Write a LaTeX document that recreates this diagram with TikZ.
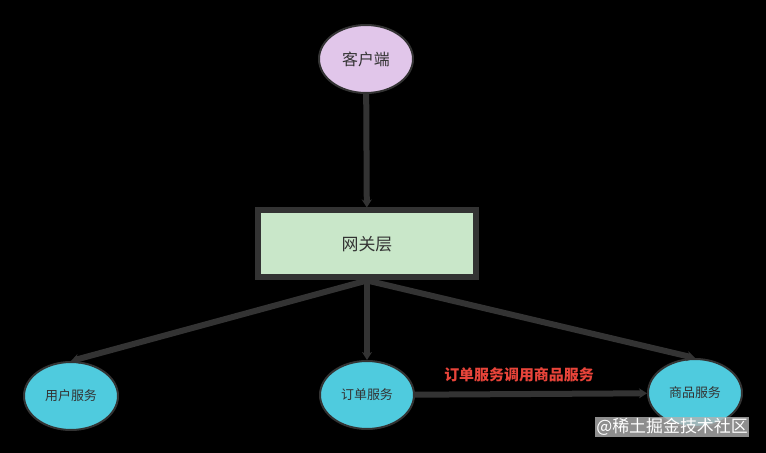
\documentclass[tikz,border=0pt]{standalone}
\usepackage{fontspec}
\newfontfamily\cjk{Noto Sans CJK SC}
\usetikzlibrary{arrows.meta,shapes.geometric}
\definecolor{linegray}{HTML}{333333}
\definecolor{purplefill}{HTML}{E1C6EA}
\definecolor{greenfill}{HTML}{C9E7C9}
\definecolor{cyanfill}{HTML}{4FCBDE}
\definecolor{redtext}{HTML}{E8443A}
\tikzset{
  ell/.style={ellipse, draw=linegray, line width=2bp, minimum width=94bp, minimum height=68bp, inner sep=0pt, text=linegray, font=\cjk\fontsize{13}{15}\selectfont},
  gw/.style={rectangle, draw=linegray, line width=6bp, fill=greenfill, minimum width=218bp, minimum height=67bp, inner sep=0pt, text=linegray, font=\cjk\fontsize{17}{20}\selectfont},
  conn/.style={draw=linegray, line width=6bp, -{Stealth[length=8bp,width=10bp]}},
}
\begin{document}
\begin{tikzpicture}[x=1bp,y=-1bp]
\fill[black] (0,0) rectangle (766,453);
\useasboundingbox (0,0) rectangle (766,453);
\node[ell, fill=purplefill, font=\cjk\fontsize{16}{18}\selectfont] (client) at (366,59) {客户端};
\node[gw] (gateway) at (367,244) {网关层};
\node[ell, fill=cyanfill] (user) at (71,396) {用户服务};
\node[ell, fill=cyanfill] (order) at (367,395) {订单服务};
\node[ell, fill=cyanfill] (goods) at (695,393) {商品服务};
\draw[conn] (client) -- (gateway);
\draw[conn] (gateway.south) -- (user.north);
\draw[conn] (gateway.south) -- (order.north);
\draw[conn] (gateway.south) -- (goods.north);
\draw[conn] (order) -- (goods);
\node[text=redtext, font=\cjk\bfseries\fontsize{15}{17}\selectfont, inner sep=0pt] (lbl) at (519,375) {订单服务调用商品服务};
\node[fill=gray!60, fill opacity=0.8, text opacity=1, text=white, inner sep=1.5bp, font=\cjk\fontsize{17}{19}\selectfont] (wm) at (672,427) {@稀土掘金技术社区};
\end{tikzpicture}
\end{document}
